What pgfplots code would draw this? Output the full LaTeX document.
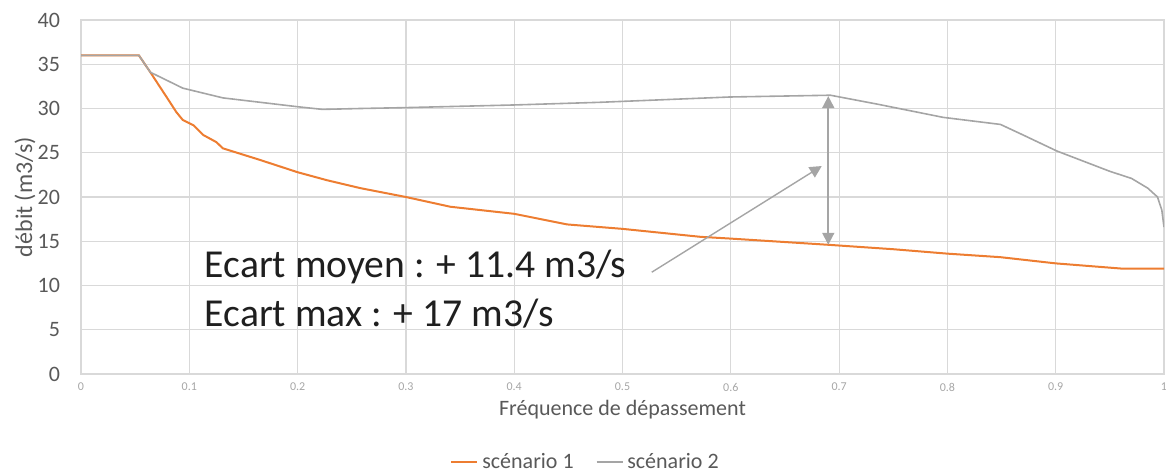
\documentclass[border=0pt]{standalone}
\usepackage{pgfplots}
\pgfplotsset{compat=1.18}
\usepackage{fontspec}
\setmainfont{Carlito}
\usetikzlibrary{arrows.meta}
\definecolor{s1}{HTML}{ED7D31}
\definecolor{s2}{HTML}{A5A5A5}
\definecolor{gridc}{HTML}{D9D9D9}
\definecolor{txt}{HTML}{595959}
\definecolor{tick}{HTML}{A6A6A6}
\definecolor{annot}{HTML}{1F1F1F}
\begin{document}
\begin{tikzpicture}
\path[use as bounding box] (-40.5pt,-48.5pt) rectangle (542.5pt,187pt);
\begin{axis}[
  at={(0,0)}, anchor=south west,
  scale only axis, width=541.5pt, height=177pt,
  xmin=0, xmax=1, ymin=0, ymax=40,
  xtick={0,0.1,0.2,0.3,0.4,0.5,0.6,0.7,0.8,0.9,1},
  xticklabels={0,0.1,0.2,0.3,0.4,0.5,0.6,0.7,0.8,0.9,1},
  ytick={0,5,10,15,20,25,30,35,40},
  yticklabels={0,5,10,15,20,25,30,35,40},
  grid=major, grid style={gridc, line width=0.6pt},
  axis line style={gridc, line width=0.8pt},
  major tick length=0pt,
  /pgf/number format/assume math mode=true,
  yticklabel style={font=\fontsize{11}{13}\selectfont, text=txt, xshift=-7pt},
  xticklabel style={font=\fontsize{6}{7}\selectfont, text=tick, yshift=-1pt},
  xlabel={Fréquence de dépassement},
  ylabel={débit (m3/s)},
  xlabel style={at={(axis description cs:0.5,0)}, anchor=center, yshift=-18pt, font=\fontsize{11}{13}\selectfont, text=txt},
  ylabel style={at={(axis description cs:-0.0517,0.5)}, anchor=center, font=\fontsize{12}{14}\selectfont, text=txt},
  legend style={at={(axis description cs:0.5,0)}, anchor=center, yshift=-44pt, xshift=-18pt, draw=none, fill=none,
    legend columns=2, font=\fontsize{11}{13}\selectfont, text=txt,
    /tikz/every even column/.append style={column sep=9pt}},
  legend image code/.code={\draw[#1] (0pt,0pt) -- (13pt,0pt);},
]
\addplot[s1, line width=1pt] coordinates {
(0,36) (0.0535,36) (0.064,34.1) (0.079,31.3) (0.088,29.6) (0.094,28.7) (0.104,28.1)
(0.113,27.0) (0.125,26.2) (0.131,25.5) (0.165,24.2) (0.2,22.8) (0.227,21.9) (0.258,21.0)
(0.3,20.0) (0.341,18.9) (0.4,18.1) (0.449,16.9) (0.5,16.4) (0.572,15.5) (0.6,15.3)
(0.69,14.6) (0.75,14.1) (0.8,13.6) (0.849,13.2) (0.9,12.5) (0.962,11.9) (1.0,11.9)
};
\addlegendentry{scénario 1}
\addplot[s2, line width=0.8pt] coordinates {
(0,36) (0.0535,36) (0.064,34.1) (0.094,32.3) (0.131,31.2) (0.2,30.2) (0.223,29.9)
(0.258,30.0) (0.3,30.1) (0.4,30.4) (0.479,30.7) (0.599,31.3) (0.692,31.5) (0.735,30.5)
(0.796,29.0) (0.849,28.2) (0.87,27.0) (0.901,25.2) (0.95,22.9) (0.97,22.1) (0.985,21.0)
(0.994,20.0) (0.998,18.5) (1.0,16.6)
};
\addlegendentry{scénario 2}
\draw[s2, line width=0.9pt, {Triangle[length=6pt,width=6pt]}-{Triangle[length=6pt,width=6pt]}]
  (axis cs:0.690,31.4) -- (axis cs:0.690,14.6);
\draw[s2, line width=0.7pt, -{Triangle[length=6pt,width=6pt]}]
  (axis cs:0.527,11.5) -- (axis cs:0.684,23.5);
\node[anchor=base west, inner sep=0pt, text=annot, font=\fontsize{19.8}{24}\selectfont]
  at (axis cs:0.114,10.85) {Ecart moyen : + 11.4 m3/s};
\node[anchor=base west, inner sep=0pt, text=annot, font=\fontsize{19.8}{24}\selectfont]
  at (axis cs:0.114,5.4) {Ecart max : + 17 m3/s};
\end{axis}
\end{tikzpicture}
\end{document}
